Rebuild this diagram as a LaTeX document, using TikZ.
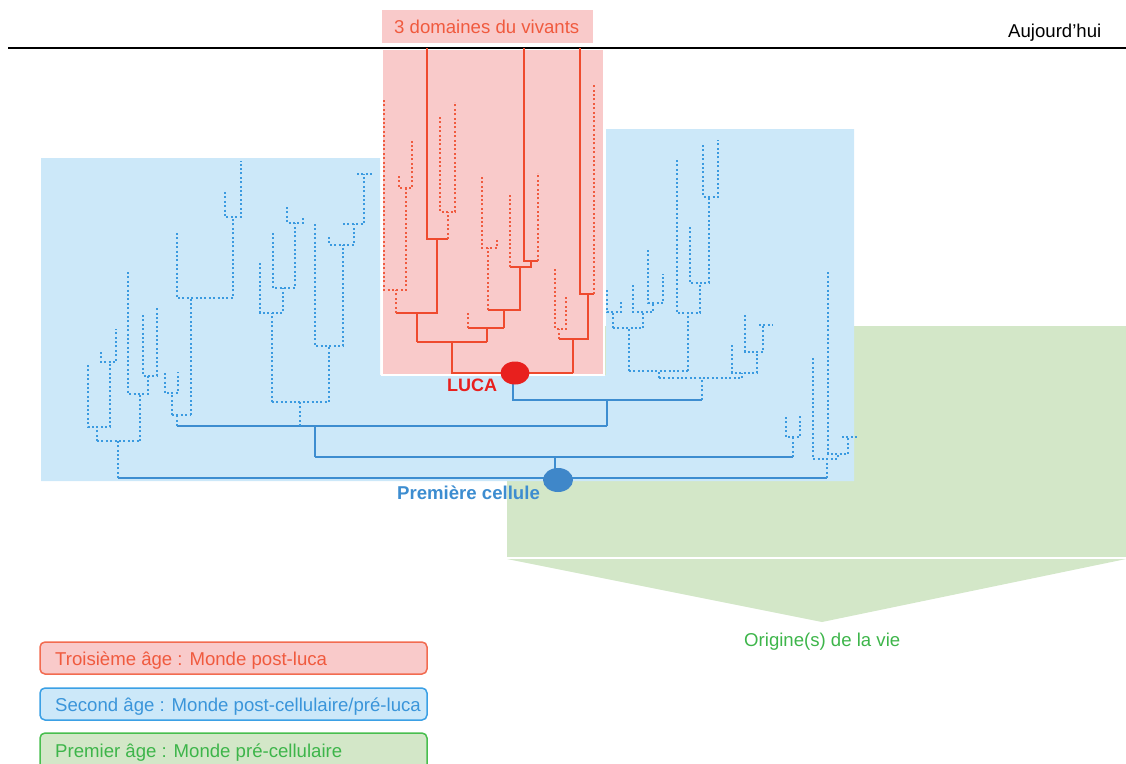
\documentclass[tikz,border=0pt]{standalone}
\usepackage{fontspec}
\setmainfont{Liberation Sans}
\usetikzlibrary{shapes.geometric}
\definecolor{bluebg}{HTML}{CCE8F9}
\definecolor{redbg}{HTML}{F9CACA}
\definecolor{greenbg}{HTML}{D3E7C8}
\definecolor{redln}{HTML}{EF4A2E}
\definecolor{redtx}{HTML}{F05A3E}
\definecolor{lucared}{HTML}{E8201E}
\definecolor{blueln}{HTML}{3D8DD0}
\definecolor{bluedot}{HTML}{3A9AE0}
\definecolor{bluecirc}{HTML}{3F87C9}
\definecolor{bluetx}{HTML}{3A95DA}
\definecolor{greentx}{HTML}{3DB54A}
\definecolor{greenln}{HTML}{48BE4E}
\definecolor{redbox}{HTML}{F26B50}
\definecolor{bluebox}{HTML}{3BA0E5}
\begin{document}
\begin{tikzpicture}[x=1pt,y=-1pt,
  rs/.style={draw=redln,line width=2.8pt},
  rd/.style={draw=redtx,line width=2pt,dash pattern=on 2pt off 2.4pt},
  bs/.style={draw=blueln,line width=2.8pt},
  bd/.style={draw=bluedot,line width=2pt,dash pattern=on 2pt off 2.4pt},
  txt/.style={font=\fontsize{18.6}{22}\selectfont,inner sep=0pt,anchor=base west},
  legbox/.style={rounded corners=5pt,line width=1.5pt}]
\useasboundingbox (0,0) rectangle (1126,763);
% backgrounds
\fill[greenbg] (507,326) rectangle (1126,557);
\fill[greenbg] (507,559) -- (1126,559) -- (822,622) -- cycle;
\fill[bluebg] (41,158) -- (380,158) -- (380,375) -- (606,375) -- (606,129) -- (854,129) -- (854,481) -- (41,481) -- cycle;
\filldraw[fill=redbg,draw=white,line width=1.5pt] (382,49) rectangle (604,375);
\draw[black,line width=1.8pt] (8,48) -- (1126,48);
\node[fill=redbg,minimum width=211pt,minimum height=33pt,inner sep=0pt,anchor=north west] (title) at (382,10) {};
\node[txt,text=redtx] (titletxt) at (394,33) {3 domaines du vivants};
\node[txt,text=black] (today) at (1008,37) {Aujourd’hui};
% red solid tree
\draw[rs] (396,313) -- (437,313) -- (437,239);
\draw[rs] (427,48) -- (427,239) -- (448,239);
\draw[rs] (417,313) -- (417,342);
\draw[rs] (417,342) -- (487,342);
\draw[rs] (452,342) -- (452,373) -- (573,373);
\draw[rs] (468,328) -- (504,328);
\draw[rs] (487,328) -- (487,342);
\draw[rs] (504,328) -- (504,310);
\draw[rs] (488,310) -- (520,310) -- (520,267);
\draw[rs] (510,267) -- (531,267) -- (531,261);
\draw[rs] (524,48) -- (524,261) -- (538,261);
\draw[rs] (573,373) -- (573,339);
\draw[rs] (559,339) -- (588,339) -- (588,294);
\draw[rs] (580,48) -- (580,294) -- (594,294);
% red dotted
\draw[rd] (396,313) -- (396,290);
\draw[rd] (384,100) -- (384,290) -- (406,290) -- (406,188);
\draw[rd] (399,176) -- (399,188) -- (412,188) -- (412,140);
\draw[rd] (448,239) -- (448,212);
\draw[rd] (440,117) -- (440,212) -- (455,212) -- (455,102);
\draw[rd] (468,328) -- (468,313);
\draw[rd] (488,310) -- (488,248);
\draw[rd] (482,177) -- (482,248) -- (497,248) -- (497,240);
\draw[rd] (510,267) -- (510,193);
\draw[rd] (538,261) -- (538,173);
\draw[rd] (559,339) -- (559,329);
\draw[rd] (555,269) -- (555,329) -- (566,329) -- (566,295);
\draw[rd] (594,294) -- (594,85);
% blue solid tree
\draw[bs] (118,478) -- (827,478);
\draw[bs] (555,478) -- (555,457);
\draw[bs] (315,457) -- (793,457);
\draw[bs] (315,457) -- (315,426);
\draw[bs] (177,426) -- (607,426);
\draw[bs] (607,426) -- (607,400);
\draw[bs] (513,380) -- (513,400) -- (702,400);
% blue dotted left
\draw[bd] (118,478) -- (118,441);
\draw[bd] (97,441) -- (140,441);
\draw[bd] (97,441) -- (97,427);
\draw[bd] (88,365) -- (88,427) -- (110,427) -- (110,362);
\draw[bd] (101,352) -- (101,362) -- (116,362) -- (116,329);
\draw[bd] (140,441) -- (140,394);
\draw[bd] (128,272) -- (128,394) -- (148,394) -- (148,376);
\draw[bd] (143,315) -- (143,376) -- (157,376) -- (157,306);
\draw[bd] (177,426) -- (177,415);
\draw[bd] (172,415) -- (191,415);
\draw[bd] (172,415) -- (172,393);
\draw[bd] (165,373) -- (165,393) -- (178,393) -- (178,372);
\draw[bd] (191,415) -- (191,298);
\draw[bd] (177,233) -- (177,298) -- (233,298) -- (233,217);
\draw[bd] (225,192) -- (225,217) -- (241,217) -- (241,161);
\draw[bd] (300,426) -- (300,402);
\draw[bd] (272,402) -- (329,402);
\draw[bd] (272,402) -- (272,313);
\draw[bd] (260,263) -- (260,313) -- (283,313) -- (283,288);
\draw[bd] (273,233) -- (273,288) -- (295,288) -- (295,223);
\draw[bd] (287,207) -- (287,223) -- (303,223) -- (303,216);
\draw[bd] (329,402) -- (329,346);
\draw[bd] (315,224) -- (315,346) -- (343,346) -- (343,245);
\draw[bd] (329,237) -- (329,245) -- (354,245) -- (354,224);
\draw[bd] (343,224) -- (364,224) -- (364,174);
\draw[bd] (357,174) -- (373,174);
% blue dotted right
\draw[bd] (702,400) -- (702,378);
\draw[bd] (659,378) -- (742,378);
\draw[bd] (659,378) -- (659,371);
\draw[bd] (629,371) -- (688,371);
\draw[bd] (629,371) -- (629,328);
\draw[bd] (613,328) -- (643,328);
\draw[bd] (613,328) -- (613,312);
\draw[bd] (607,290) -- (607,312) -- (621,312) -- (621,300);
\draw[bd] (643,328) -- (643,312);
\draw[bd] (633,285) -- (633,312) -- (653,312) -- (653,303);
\draw[bd] (648,250) -- (648,303) -- (663,303) -- (663,274);
\draw[bd] (688,371) -- (688,313);
\draw[bd] (677,160) -- (677,313) -- (700,313) -- (700,283);
\draw[bd] (690,227) -- (690,283) -- (709,283) -- (709,197);
\draw[bd] (703,145) -- (703,197) -- (718,197) -- (718,140);
\draw[bd] (742,378) -- (742,373);
\draw[bd] (732,345) -- (732,373) -- (757,373) -- (757,352);
\draw[bd] (745,315) -- (745,352) -- (763,352) -- (763,325);
\draw[bd] (759,325) -- (773,325);
\draw[bd] (793,457) -- (793,437);
\draw[bd] (786,417) -- (786,437) -- (800,437) -- (800,415);
\draw[bd] (827,478) -- (827,459);
\draw[bd] (813,358) -- (813,459) -- (838,459) -- (838,454);
\draw[bd] (828,272) -- (828,454) -- (848,454) -- (848,437);
\draw[bd] (842,437) -- (857,437);
% circles
\node[ellipse,fill=lucared,minimum width=29pt,minimum height=23pt,inner sep=0pt] (luca) at (515,373) {};
\node[ellipse,fill=bluecirc,minimum width=30pt,minimum height=24pt,inner sep=0pt] (cell) at (558,480) {};
\node[txt,text=lucared,font=\bfseries\fontsize{18}{22}\selectfont] (lucatxt) at (447,391) {LUCA};
\node[txt,text=blueln,font=\bfseries\fontsize{18.6}{22}\selectfont] (celltxt) at (397,499) {Première cellule};
\node[txt,text=greentx] (origin) at (744,646) {Origine(s) de la vie};
% legend
\filldraw[legbox,fill=redbg,draw=redbox] (40,642) rectangle (427,674);
\node[txt,text=redtx] (leg1) at (55,665) {Troisième âge : Monde post-luca};
\filldraw[legbox,fill=bluebg,draw=bluebox] (40,688) rectangle (427,720);
\node[txt,text=bluetx] (leg2) at (55,711) {Second âge : Monde post-cellulaire/pré-luca};
\filldraw[legbox,fill=greenbg,draw=greenln] (40,733) rectangle (427,780);
\node[txt,text=greentx] (leg3) at (55,757) {Premier âge : Monde pré-cellulaire};
\end{tikzpicture}
\end{document}
